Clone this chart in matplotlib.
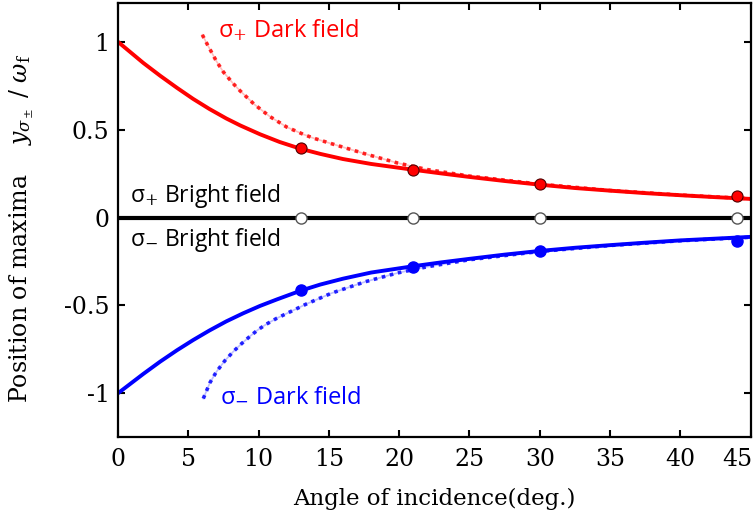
import numpy as np
import matplotlib
matplotlib.use("Agg")
import matplotlib.pyplot as plt
from matplotlib.transforms import ScaledTranslation

plt.rcParams['mathtext.fontset'] = 'dejavuserif'

# values
x_red = [0, 1.8, 3, 4.2, 5.35, 6.5, 7.7, 8.7, 10.1, 11.5, 13, 14.4, 16, 18, 21,
         23, 25, 27.5, 30, 32.5, 35, 37.5, 40, 42.5, 45]
red_solid = [1, 0.88, 0.807, 0.738, 0.675, 0.618, 0.564, 0.524, 0.474, 0.43, 0.391,
             0.362, 0.333, 0.305, 0.272, 0.251, 0.231, 0.208, 0.187, 0.168, 0.153,
             0.139, 0.127, 0.116, 0.106]

x_blue = [0, 1.8, 3, 4.2, 5.35, 6.5, 7.7, 8.9, 10.1, 11.3, 13, 14.4, 16, 18, 21,
          23, 25, 27.5, 30, 32.5, 35, 37.5, 40, 42.5, 45]
blue_solid = [-1, -0.89, -0.82, -0.755, -0.697, -0.643, -0.591, -0.545, -0.503, -0.466,
              -0.416, -0.381, -0.348, -0.313, -0.277, -0.255, -0.235, -0.211, -0.19,
              -0.172, -0.157, -0.143, -0.13, -0.12, -0.11]

x_red_dot = [6.0, 6.35, 7.0, 7.5, 8.2, 8.7, 9.7, 10.8, 12.0, 13.2, 13.9, 15.2, 17.6,
             19.9, 22, 25, 30, 35, 40, 45]
red_dot = [1.04, 0.986, 0.89, 0.828, 0.762, 0.72, 0.644, 0.575, 0.515, 0.473, 0.452,
           0.42, 0.362, 0.31, 0.273, 0.236, 0.19, 0.154, 0.128, 0.107]

x_blue_dot = [6.07, 6.54, 7.0, 7.6, 8.2, 8.8, 9.4, 9.97, 10.57, 11.3, 12.0, 12.7, 13.4,
              15.2, 17.6, 19.9, 22, 25, 30, 35, 40, 45]
blue_dot = [-1.03, -0.94, -0.878, -0.815, -0.763, -0.717, -0.675, -0.638, -0.606, -0.573,
            -0.546, -0.519, -0.492, -0.43, -0.365, -0.315, -0.28, -0.24, -0.193,
            -0.159, -0.132, -0.112]

x_pts = [13, 21, 30, 44]
red_pts = [0.395, 0.27, 0.19, 0.12]
blue_pts = [-0.41, -0.28, -0.19, -0.135]
bright_pts = [0, 0, 0, 0]

fig = plt.figure(figsize=(7.56, 5.23), dpi=100)
ax = fig.add_axes([0.156, 0.164, 0.837, 0.830])

# dotted curves: faint thin line with square dots on top
for xs, ys, c in [(x_red_dot, red_dot, 'red'), (x_blue_dot, blue_dot, 'blue')]:
    ax.plot(xs, ys, color=c, lw=1.2, alpha=0.25)
    ax.plot(xs, ys, color=c, lw=2.6, dashes=(1, 1.3), alpha=0.85, solid_capstyle='butt')

ax.plot(x_red, red_solid, color='red', lw=2.8)
ax.plot(x_blue, blue_solid, color='blue', lw=2.8)
ax.plot([0, 45], [0, 0], color='black', lw=3)

ax.plot(x_pts, red_pts, 'o', color='red', mec='#500000', mew=0.8, ms=8, ls='none')
ax.plot(x_pts, blue_pts, 'o', color='blue', ms=8, ls='none')
ax.plot(x_pts, bright_pts, 'o', color='white', mec='#555555', mew=1, ms=8, ls='none')

ax.set_xlim(0, 45)
ax.set_ylim(-1.25, 1.22)
ax.set_xticks(np.arange(0, 46, 5))
ax.set_yticks([-1, -0.5, 0, 0.5, 1])
ax.set_yticklabels(['-1', '-0.5', '0', '0.5', '1'])
ax.tick_params(direction='in', top=True, right=True, length=5, width=1.5, labelsize=17)
ax.tick_params(axis='y', pad=6)
ax.tick_params(axis='x', pad=8)
for lab in ax.get_xticklabels() + ax.get_yticklabels():
    lab.set_family('DejaVu Serif')
# pull the last x label in so it stays inside the figure
last = ax.get_xticklabels()[-1]
last.set_transform(last.get_transform() + ScaledTranslation(-10 / 72, 0, fig.dpi_scale_trans))
for s in ax.spines.values():
    s.set_linewidth(1.6)

ax.set_xlabel('Angle of incidence(deg.)', fontsize=16.5, family='DejaVu Serif', labelpad=12)
ax.set_ylabel(r'Position of maxima $\quad y_{\sigma_\pm}\ /\ \omega_{\mathrm{f}}$',
              fontsize=17, family='DejaVu Serif')
ax.yaxis.set_label_coords(-0.13, 0.48)

fam = ['Open Sans', 'DejaVu Sans']
ax.text(7.1, 1.065, r'σ$_{+}$ Dark field', color='red', fontsize=17, family=fam, va='center')
ax.text(0.85, 0.125, r'σ$_{+}$ Bright field', color='black', fontsize=16.5, family=fam, va='center')
ax.text(0.85, -0.13, r'σ$_{-}$ Bright field', color='black', fontsize=16.5, family=fam, va='center')
ax.text(7.25, -1.01, r'σ$_{-}$ Dark field', color='blue', fontsize=17, family=fam, va='center')

fig.savefig('out.png', dpi=100)
